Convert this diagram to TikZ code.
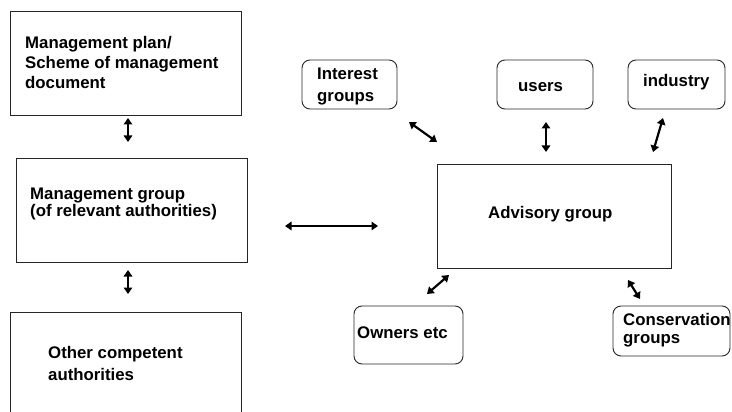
\documentclass[tikz,border=0pt]{standalone}
\usepackage{fontspec}
\setmainfont{Liberation Sans}
\usetikzlibrary{arrows.meta}

\tikzset{
  box/.style={draw=black!85, line width=0.9pt, inner sep=0pt},
  softbox/.style={box, rounded corners=8pt},
  txt/.style={anchor=base west, align=left, inner sep=0pt,
    font=\fontsize{16.8}{20}\selectfont\bfseries},
  link/.style={line width=2.2pt,
    {Triangle[length=6.5pt,width=8.5pt]}-{Triangle[length=6.5pt,width=8.5pt]}}
}

\begin{document}
\begin{tikzpicture}[x=1pt,y=-1pt]
\useasboundingbox (0,0) rectangle (732,412);
\clip (0,0) rectangle (732,412);
% left column
\node[box, minimum width=231pt, minimum height=104pt] (plan) at (125.5,63) {};
\node[box, minimum width=231pt, minimum height=104pt] (mgroup) at (131.5,210) {};
\node[box, minimum width=231pt, minimum height=116pt] (other) at (125.5,370) {};
\node[txt] (plantxt) at (25,88.3) {Management plan/\\Scheme of management\\document};
\node[txt] (mgrouptxt) at (30,216.7) {Management group\\[-3pt](of relevant authorities)};
\node[txt] (othertxt) at (48,380.7) {Other competent\\[2.7pt]authorities};
% advisory side
\node[box, minimum width=234pt, minimum height=104pt] (advisory) at (554,216) {};
\node[txt] (advisorytxt) at (488,218) {Advisory group};
\node[softbox, minimum width=95pt, minimum height=49pt] (interest) at (349.5,84.5) {};
\node[softbox, minimum width=96pt, minimum height=49pt] (users) at (545,84.5) {};
\node[softbox, minimum width=97pt, minimum height=49pt] (industry) at (676.5,84.5) {};
\node[softbox, minimum width=109pt, minimum height=58pt] (owners) at (408.5,335) {};
\node[softbox, minimum width=117pt, minimum height=50pt] (conserv) at (671.5,331) {};
\node[txt] (interesttxt) at (317,101.7) {Interest\\[1.7pt]groups};
\node[txt] (userstxt) at (518,92) {users};
\node[txt] (industrytxt) at (643,87) {industry};
\node[txt] (ownerstxt) at (357,338) {Owners etc};
\node[txt] (conservtxt) at (623,343) {Conservation\\[-2pt]groups};
% arrow ends
\coordinate (p1) at (128,118);  \coordinate (p2) at (128,142);
\coordinate (g1) at (128,270);  \coordinate (g2) at (128,294);
\coordinate (h1) at (285,226);  \coordinate (h2) at (378,226);
\coordinate (i1) at (409,122);  \coordinate (i2) at (437,142);
\coordinate (u1) at (546,122);  \coordinate (u2) at (546,152);
\coordinate (d1) at (663,118);  \coordinate (d2) at (653,152);
\coordinate (o1) at (449,275);  \coordinate (o2) at (427,294);
\coordinate (c1) at (628,280);  \coordinate (c2) at (640,299);
\draw[link] (p1) -- (p2);
\draw[link] (g1) -- (g2);
\draw[link] (h1) -- (h2);
\draw[link] (i1) -- (i2);
\draw[link] (u1) -- (u2);
\draw[link] (d1) -- (d2);
\draw[link] (o1) -- (o2);
\draw[link] (c1) -- (c2);
\end{tikzpicture}
\end{document}
